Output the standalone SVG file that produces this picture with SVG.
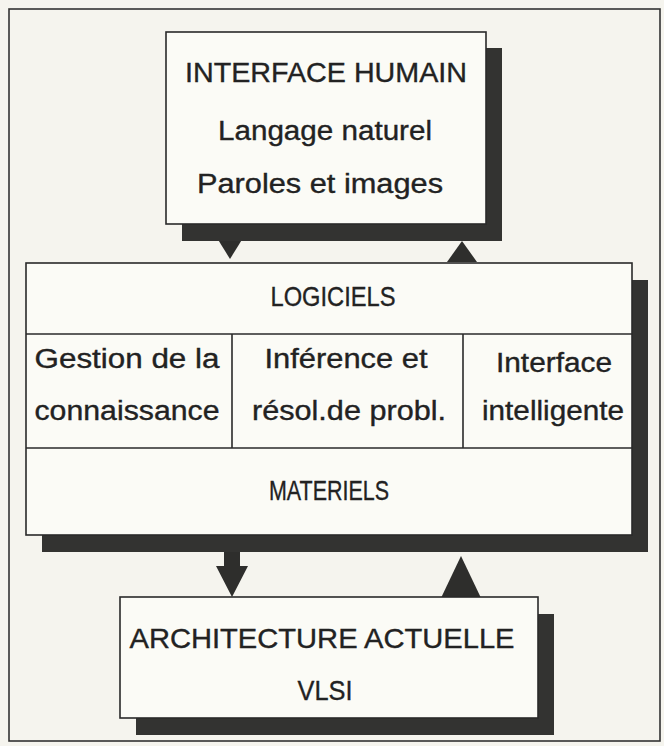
<svg xmlns="http://www.w3.org/2000/svg" width="664" height="746" viewBox="0 0 664 746">
<style>
.box{fill:#fbfbf6;stroke:#2a2a2a;stroke-width:1.6}
.shadow{fill:#333331}
.line{stroke:#2a2a2a;stroke-width:1.6;fill:none}
.arrow{fill:#2e2e2c}
text{font-family:"Liberation Sans",Arial,sans-serif;font-size:27px;fill:#222;stroke:#222;stroke-width:0.35;text-anchor:middle}
.cap{font-size:28px}
</style>
<rect x="0" y="0" width="664" height="746" fill="#f5f4ee"/>
<rect x="9" y="9" width="651" height="732" fill="none" stroke="#333" stroke-width="1.6"/>
<g id="connectors">
<polygon class="arrow" points="217,238 243,238 230,259"/>
<polygon class="arrow" points="462,241 477,262 447,262"/>
<polygon class="arrow" points="224,550 240,550 240,566 248,566 232,597 216,566 224,566"/>
<polygon class="arrow" points="461,556 481,598 441,598"/>
</g>
<g id="interface-humain">
<rect class="shadow" x="182" y="48" width="320" height="193"/>
<rect class="box" x="166" y="32" width="320" height="192"/>
<text class="cap" x="326" y="82" textLength="282" lengthAdjust="spacingAndGlyphs">INTERFACE HUMAIN</text>
<text x="325" y="140" textLength="214" lengthAdjust="spacingAndGlyphs">Langage naturel</text>
<text x="320" y="193" textLength="246" lengthAdjust="spacingAndGlyphs">Paroles et images</text>
</g>
<g id="logiciels-materiels">
<rect class="shadow" x="42" y="280" width="606" height="272"/>
<rect class="box" x="26" y="263" width="606" height="272"/>
<line class="line" x1="26" y1="334" x2="632" y2="334"/>
<line class="line" x1="26" y1="448" x2="632" y2="448"/>
<line class="line" x1="232" y1="334" x2="232" y2="448"/>
<line class="line" x1="463" y1="334" x2="463" y2="448"/>
<text class="cap" x="333" y="306" textLength="125" lengthAdjust="spacingAndGlyphs">LOGICIELS</text>
<text x="127" y="368" textLength="185" lengthAdjust="spacingAndGlyphs">Gestion de la</text>
<text x="127" y="420" textLength="185" lengthAdjust="spacingAndGlyphs">connaissance</text>
<text x="346" y="368" textLength="163" lengthAdjust="spacingAndGlyphs">Inférence et</text>
<text x="349" y="420" textLength="194" lengthAdjust="spacingAndGlyphs">résol.de probl.</text>
<text x="554" y="372" textLength="116" lengthAdjust="spacingAndGlyphs">Interface</text>
<text x="553" y="420" textLength="142" lengthAdjust="spacingAndGlyphs">intelligente</text>
<text class="cap" x="329" y="500" textLength="120" lengthAdjust="spacingAndGlyphs">MATERIELS</text>
</g>
<g id="architecture">
<rect class="shadow" x="136" y="614" width="418" height="121"/>
<rect class="box" x="120" y="597" width="418" height="121"/>
<text class="cap" x="322" y="648" textLength="385" lengthAdjust="spacingAndGlyphs">ARCHITECTURE ACTUELLE</text>
<text class="cap" x="325" y="700" textLength="55" lengthAdjust="spacingAndGlyphs">VLSI</text>
</g>
</svg>
